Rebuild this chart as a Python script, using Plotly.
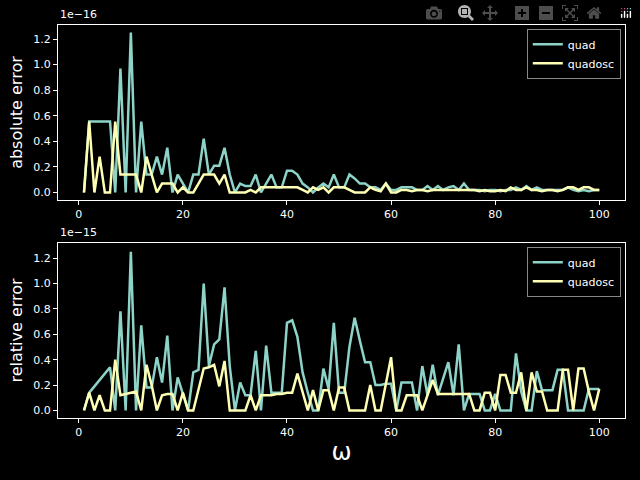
import plotly.graph_objects as go

omega = list(range(1, 101))
# absolute error, units of 1e-16
abs_quad = [0, .555, .555, .555, .555, .555, 0, .97, 0, 1.25, 0, .555, .14, .14, .28, .14, .35, 0, .14, .07,
            0, .14, .14, .42, .14, .21, .21, .35, .14, 0, .07, .05, .05, .14, 0, .07, .14, .04, .04, .17,
            .17, .14, .07, .04, 0, .04, .07, .04, .14, .04, .04, .14, .11, .07, .07, .04, .04, .02, .07, .02,
            .02, .04, .04, .04, .02, .02, .05, .02, .05, .02, .04, .05, .02, .07, .02, .02, .02, .01, .02, .02,
            .01, .02, .02, .04, .02, .05, .02, .04, .02, .02, .02, .02, .02, .04, .02, .01, .02, .01, .02, .02]
abs_osc = [0, .555, 0, .28, 0, 0, .555, .14, .14, .14, .14, 0, .28, .14, 0, .07, .07, .07, 0, .04,
           0, 0, .07, .14, .14, .14, .07, .14, 0, 0, 0, 0, .02, 0, .04, .04, .04, .04, .04, .04,
           .04, .04, .02, 0, .04, .02, .04, 0, .04, .04, .04, .02, 0, 0, 0, .04, .02, .01, .07, 0,
           0, .02, .02, .01, .02, .02, .01, .02, .02, .02, .02, .02, .02, .02, .02, .02, .01, .02, .01, .01,
           .02, .01, .04, .02, .02, .04, .02, .02, .01, .02, .02, .01, .02, .04, .04, .02, .04, .04, .02, .02]
# relative error, units of 1e-15
rel_quad = [0, .14, .19, .24, .29, .34, 0, .78, 0, 1.25, 0, .67, .18, .18, .42, .22, .59, 0, .26, .13,
            0, .30, .32, 1.0, .35, .52, .56, .97, .35, 0, .22, .12, .12, .47, 0, .51, .14, .14, .14, .69,
            .71, .58, .3, .14, 0, 0, .33, .17, .69, .14, .14, .5, .73, .55, .38, .38, .2, .2, .21, .21,
            0, .22, .22, .22, 0, .35, .12, .36, .12, .25, .38, .12, .52, 0, .13, .13, .13, 0, 0, .13,
            0, 0, 0, .45, .15, 0, 0, .31, .16, .16, .16, .32, .32, 0, 0, 0, 0, .17, .17, .17]
rel_osc = [0, .14, 0, .12, 0, 0, .40, .12, .13, .14, .15, 0, .36, .2, 0, .12, .13, .13, 0, .14,
           0, 0, .17, .33, .34, .36, .19, .39, 0, 0, 0, 0, .12, 0, .12, .12, .12, .13, .13, .14,
           .14, .29, .14, 0, .16, 0, .16, .16, 0, .18, .18, 0, 0, 0, 0, .2, 0, 0, .20, .42,
           0, 0, .12, .12, .12, 0, .12, .24, .13, .13, .13, .13, .13, .13, .13, 0, 0, .14, .14, 0,
           .28, .28, .14, .14, .3, 0, .3, .15, .15, 0, 0, 0, .32, .32, 0, .33, .33, .15, 0, .17]

C1, C2 = "#8dd3c7", "#feffb3"
fig = go.Figure()
for y, name, c, ax, lg in [(abs_quad, "quad", C1, "y", "legend"), (abs_osc, "quadosc", C2, "y", "legend"),
                           (rel_quad, "quad", C1, "y2", "legend2"), (rel_osc, "quadosc", C2, "y2", "legend2")]:
    fig.add_trace(go.Scatter(x=omega, y=y, name=name, mode="lines", line=dict(color=c, width=2.5),
                             xaxis="x" if ax == "y" else "x2", yaxis=ax, legend=lg))

axcommon = dict(showgrid=False, zeroline=False, showline=True, mirror=True, linecolor="white", linewidth=1,
                ticks="outside", tickcolor="white", ticklen=4, tickfont=dict(color="white", size=11))
ticky = dict(tickvals=[0, .2, .4, .6, .8, 1.0, 1.2], ticktext=["0.0", "0.2", "0.4", "0.6", "0.8", "1.0", "1.2"])
fig.update_layout(
    width=640, height=480, paper_bgcolor="black", plot_bgcolor="black",
    margin=dict(l=0, r=0, t=0, b=0), font=dict(family="DejaVu Sans", color="white"),
    xaxis=dict(domain=[0.0906, 0.977], range=[-4, 105], anchor="y", tickvals=[0, 20, 40, 60, 80, 100], **axcommon),
    yaxis=dict(domain=[0.583, 0.948], range=[-0.06, 1.31], anchor="x", **ticky, **axcommon,
               title=dict(text="absolute error", font=dict(size=16), standoff=6)),
    xaxis2=dict(domain=[0.0906, 0.977], range=[-4, 105], anchor="y2", tickvals=[0, 20, 40, 60, 80, 100], **axcommon,
                title=dict(text="ω", font=dict(size=24), standoff=4)),
    yaxis2=dict(domain=[0.129, 0.494], range=[-0.06, 1.32], anchor="x2", **ticky, **axcommon,
                title=dict(text="relative error", font=dict(size=16), standoff=6)),
    legend=dict(x=0.97, y=0.94, xanchor="right", yanchor="top", bgcolor="black", bordercolor="#888",
                borderwidth=1, font=dict(size=11, color="white")),
    legend2=dict(x=0.97, y=0.486, xanchor="right", yanchor="top", bgcolor="black", bordercolor="#888",
                 borderwidth=1, font=dict(size=11, color="white")),
    annotations=[dict(text="1e−16", x=0.0906, y=0.952, xref="paper", yref="paper", xanchor="left", yanchor="bottom",
                      showarrow=False, font=dict(size=11, color="white")),
                 dict(text="1e−15", x=0.0906, y=0.498, xref="paper", yref="paper", xanchor="left", yanchor="bottom",
                      showarrow=False, font=dict(size=11, color="white"))],
)
fig.write_html("out.html",
               post_script="document.body.style.margin='0';document.body.style.background='black';")
